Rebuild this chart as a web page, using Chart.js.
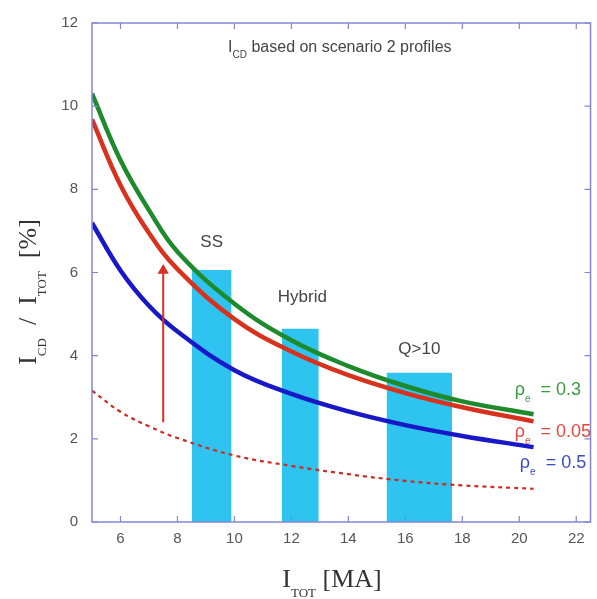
<!DOCTYPE html>
<html>
<head>
<meta charset="utf-8">
<script src="https://cdn.jsdelivr.net/npm/chart.js@4.4.1/dist/chart.umd.min.js"></script>
<style>
  html, body { margin: 0; padding: 0; background: #ffffff; }
  #wrap { width: 597px; height: 599px; }
</style>
</head>
<body>
<div id="wrap"><canvas id="c" width="597" height="599"></canvas></div>
<script>
// ---- data ----
const currentMA = [5, 6, 7, 8, 10, 12, 14, 16, 18, 20.5];        // I_TOT [MA]
const rho03   = [10.3, 8.7, 7.5, 6.5, 5.25, 4.37, 3.75, 3.27, 2.9, 2.59];
const rho005  = [9.68, 8.1, 6.95, 6.08, 4.88, 4.1, 3.53, 3.1, 2.76, 2.42];
const rho05   = [7.19, 6.05, 5.2, 4.58, 3.65, 3.08, 2.66, 2.33, 2.07, 1.8];
const dashedRef = [3.16, 2.65, 2.3, 2.02, 1.6, 1.35, 1.15, 0.99, 0.88, 0.8];

const scenarioNames = ['SS', 'Hybrid', 'Q>10'];
const scenarioStart = [8.5, 11.67, 15.34];   // MA
const scenarioEnd   = [9.9, 12.96, 17.64];   // MA
const scenarioCD    = [6.06, 4.65, 3.59];    // %

const arrowX = [7.5, 7.5];
const arrowY = [2.4, 6.05];

const xTicks = [6, 8, 10, 12, 14, 16, 18, 20, 22];
const yTicks = [0, 2, 4, 6, 8, 10, 12];

const legendNames = ['0.3', '0.05', '0.5'];

// ---- styling (kept separate from data) ----
const GREEN = '#1f8a2c', RED = '#d8321f', BLUE = '#1818c8', CYAN = '#2ec4ef';
const FRAME = '#8585d6';

const toPts = (xs, ys) => xs.map((x, i) => ({ x: x, y: ys[i] }));

const datasets = [];
scenarioNames.forEach((n, i) => {
  datasets.push({
    label: n, data: [{ x: scenarioStart[i], y: scenarioCD[i] }, { x: scenarioEnd[i], y: scenarioCD[i] }],
    borderWidth: 0, borderColor: 'rgba(0,0,0,0)', backgroundColor: CYAN, fill: 'origin',
    pointRadius: 0, tension: 0, order: 10
  });
});
datasets.push({ label: 'ref', data: toPts(currentMA, dashedRef), borderColor: '#cc2a22', borderWidth: 2.2,
  borderDash: [4, 4], pointRadius: 0, tension: 0.4, fill: false, order: 5 });
datasets.push({ label: 'rho 0.5', data: toPts(currentMA, rho05), borderColor: BLUE, borderWidth: 4.5,
  pointRadius: 0, tension: 0.4, fill: false, order: 4 });
datasets.push({ label: 'rho 0.05', data: toPts(currentMA, rho005), borderColor: RED, borderWidth: 4.5,
  pointRadius: 0, tension: 0.4, fill: false, order: 3 });
datasets.push({ label: 'rho 0.3', data: toPts(currentMA, rho03), borderColor: GREEN, borderWidth: 4.5,
  pointRadius: 0, tension: 0.4, fill: false, order: 2 });
datasets.push({ label: 'arrow', data: toPts(arrowX, arrowY), borderColor: RED, borderWidth: 2,
  pointRadius: [0, 6.5], pointStyle: 'triangle', pointBackgroundColor: RED, pointBorderColor: RED,
  pointBorderWidth: 0, fill: false, order: 1 });

function drawRich(ctx, parts, x, y, align, big, small, family, color) {
  let w = 0;
  parts.forEach(p => {
    ctx.font = (p.sub ? small : big) + 'px ' + family;
    p.w = ctx.measureText(p.t).width; w += p.w;
  });
  let cx = align === 'center' ? x - w / 2 : (align === 'right' ? x - w : x);
  ctx.fillStyle = color;
  ctx.textBaseline = 'alphabetic';
  ctx.textAlign = 'left';
  parts.forEach(p => {
    ctx.font = (p.sub ? small : big) + 'px ' + family;
    ctx.fillText(p.t, cx, y + (p.sub ? big * 0.38 : 0));
    cx += p.w;
  });
}

const framePlugin = {
  id: 'frame',
  afterDatasetsDraw(chart) {
    const { ctx, chartArea: a, scales: { x, y } } = chart;
    ctx.save();
    ctx.strokeStyle = FRAME; ctx.lineWidth = 1.5;
    ctx.strokeRect(a.left, a.top, a.right - a.left, a.bottom - a.top);
    ctx.lineWidth = 1.2;
    const L = 6;
    xTicks.forEach(v => {
      const px = x.getPixelForValue(v);
      if (px > a.right - 1) return;
      ctx.beginPath(); ctx.moveTo(px, a.bottom); ctx.lineTo(px, a.bottom - L);
      ctx.moveTo(px, a.top); ctx.lineTo(px, a.top + L); ctx.stroke();
    });
    yTicks.forEach(v => {
      const py = y.getPixelForValue(v);
      ctx.beginPath(); ctx.moveTo(a.left, py); ctx.lineTo(a.left + L, py);
      ctx.moveTo(a.right, py); ctx.lineTo(a.right - L, py); ctx.stroke();
    });
    // annotations
    const sans = '"Liberation Sans", Arial, sans-serif';
    ctx.fillStyle = '#444'; ctx.font = '17px ' + sans; ctx.textAlign = 'center'; ctx.textBaseline = 'middle';
    const labelY = [6.72, 5.4, 4.15];
    const labelDX = [0, 2, 0];
    scenarioNames.forEach((n, i) => {
      const cx = (x.getPixelForValue(scenarioStart[i]) + x.getPixelForValue(scenarioEnd[i])) / 2;
      ctx.fillText(n, cx + labelDX[i], y.getPixelForValue(labelY[i]));
    });
    // title
    drawRich(ctx, [{ t: 'I', sub: false }, { t: 'CD', sub: true }, { t: ' based on scenario 2 profiles', sub: false }],
      x.getPixelForValue(13.7), y.getPixelForValue(11.3), 'center', 16, 10, sans, '#444');
    // rho labels
    const legCol = ['#3b9a40', '#e04a3c', '#3a4cc4'];
    const legY = [3.05, 2.05, 1.3];
    const legX = [19.84, 19.84, 20.02];
    legendNames.forEach((v, i) => {
      drawRich(ctx, [{ t: 'ρ', sub: false }, { t: 'e', sub: true }, { t: '  = ' + v, sub: false }],
        x.getPixelForValue(legX[i]), y.getPixelForValue(legY[i]), 'left', 18, 10, sans, legCol[i]);
    });
    // axis titles
    const serif = '"Liberation Serif", "Times New Roman", serif';
    drawRich(ctx, [{ t: 'I', sub: false }, { t: 'TOT', sub: true }, { t: ' [MA]', sub: false }],
      332, 587, 'center', 26, 13, serif, '#333');
    ctx.save();
    ctx.translate(36, 292);
    ctx.rotate(-Math.PI / 2);
    drawRich(ctx, [{ t: 'I', sub: false }, { t: 'CD', sub: true }, { t: '  /  I', sub: false }, { t: 'TOT', sub: true }, { t: '  [%]', sub: false }],
      0, 0, 'center', 26, 13, serif, '#333');
    ctx.restore();
    ctx.restore();
  }
};

new Chart(document.getElementById('c'), {
  type: 'line',
  data: { datasets: datasets },
  options: {
    responsive: false, animation: false, devicePixelRatio: 1,
    layout: { padding: { top: 21, right: 4, left: 0, bottom: 0 } },
    plugins: { legend: { display: false }, tooltip: { enabled: false } },
    scales: {
      x: {
        type: 'linear', min: 5, max: 22.5,
        afterBuildTicks: s => { s.ticks = xTicks.map(v => ({ value: v })); },
        afterFit: s => { s.height = 77; },
        grid: { display: false, drawTicks: false }, border: { display: false },
        ticks: { color: '#555', font: { size: 15, family: '"Liberation Sans", Arial, sans-serif' }, padding: 8, maxRotation: 0, autoSkip: false }
      },
      y: {
        type: 'linear', min: 0, max: 12,
        afterBuildTicks: s => { s.ticks = yTicks.map(v => ({ value: v })); },
        afterFit: s => { s.width = 92; },
        grid: { display: false, drawTicks: false }, border: { display: false },
        ticks: { color: '#555', font: { size: 15, family: '"Liberation Sans", Arial, sans-serif' }, padding: 14 }
      }
    }
  },
  plugins: [framePlugin]
});
</script>
</body>
</html>
